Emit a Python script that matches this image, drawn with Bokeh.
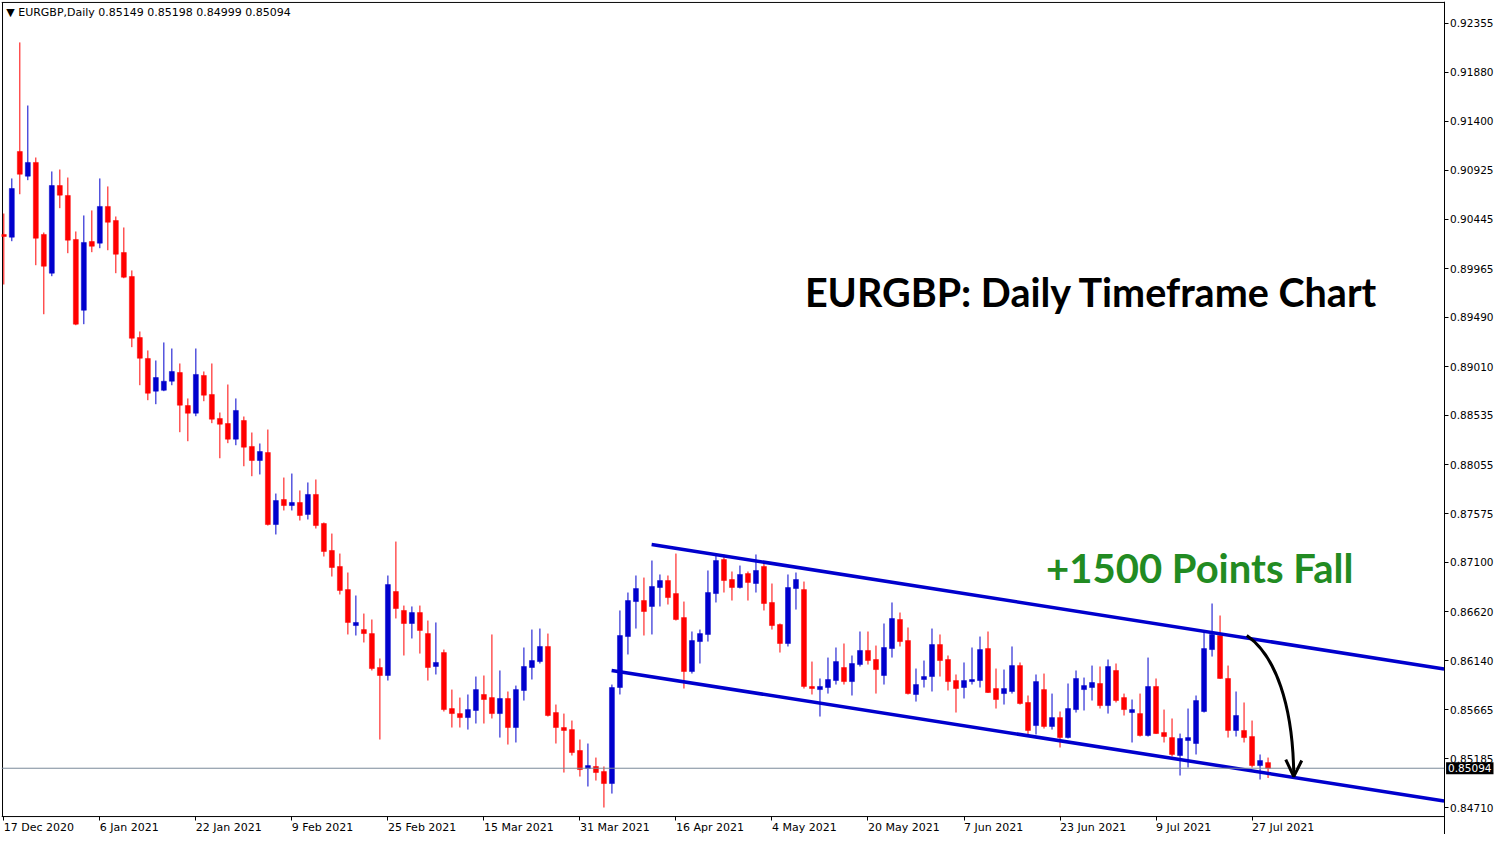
from bokeh.plotting import figure
from bokeh.models import ColumnDataSource, FixedTicker, PrintfTickFormatter, Label, Range1d
from bokeh.embed import file_html
from bokeh.resources import INLINE

symbol = "EURGBP"
timeframe = "Daily"

opens = [0.90298, 0.90271, 0.91107, 0.90866, 0.91000, 0.90298, 0.89920, 0.90775, 0.90678, 0.90249,
         0.89559, 0.90229, 0.90213, 0.90571, 0.90434, 0.90122, 0.89888, 0.89293, 0.89089, 0.88770,
         0.88779, 0.88867, 0.88952, 0.88630, 0.88555, 0.88923, 0.88738, 0.88504, 0.88455, 0.88302,
         0.88484, 0.88231, 0.88094, 0.88172, 0.87470, 0.87714, 0.87655, 0.87685, 0.87568, 0.87763,
         0.87480, 0.87217, 0.87061, 0.86836, 0.86485, 0.86446, 0.86407, 0.86076, 0.85998, 0.86817,
         0.86632, 0.86505, 0.86612, 0.86407, 0.86086, 0.86222, 0.85676, 0.85627, 0.85588, 0.85657,
         0.85813, 0.85783, 0.85627, 0.85774, 0.85491, 0.85852, 0.86076, 0.86134, 0.86281, 0.85637,
         0.85491, 0.85471, 0.85267, 0.85091, 0.85111, 0.85062, 0.84945, 0.85881, 0.86378, 0.86719,
         0.86729, 0.86671, 0.86856, 0.86924, 0.86797, 0.86563, 0.86037, 0.86329, 0.86398, 0.86797,
         0.87129, 0.86934, 0.86856, 0.86992, 0.86895, 0.87061, 0.86710, 0.86495, 0.86310, 0.86846,
         0.86836, 0.85891, 0.85861, 0.85881, 0.85949, 0.86076, 0.85939, 0.86105, 0.86242, 0.86154,
         0.85998, 0.86261, 0.86544, 0.86339, 0.85813, 0.85959, 0.85988, 0.86300, 0.86154, 0.85949,
         0.85881, 0.85939, 0.85949, 0.86261, 0.85871, 0.85822, 0.85842, 0.86095, 0.85735, 0.85510,
         0.85861, 0.85501, 0.85588, 0.85393, 0.85666, 0.85861, 0.85881, 0.85920, 0.85705, 0.86047,
         0.85783, 0.85637, 0.85627, 0.85413, 0.85891, 0.85442, 0.85393, 0.85218, 0.85364, 0.85335,
         0.85647, 0.86251, 0.86388, 0.85969, 0.85462, 0.85462, 0.85403, 0.85120, 0.85149]

highs = [0.90502, 0.90844, 0.92170, 0.91555, 0.91048, 0.90317, 0.90912, 0.90931, 0.90853, 0.90327,
         0.90483, 0.90532, 0.90844, 0.90766, 0.90473, 0.90366, 0.89947, 0.89352, 0.89167, 0.89069,
         0.89245, 0.89186, 0.89040, 0.88699, 0.89186, 0.88962, 0.89040, 0.88562, 0.88835, 0.88699,
         0.88523, 0.88367, 0.88260, 0.88396, 0.87772, 0.87928, 0.87967, 0.87802, 0.87880, 0.87909,
         0.87490, 0.87382, 0.87187, 0.87002, 0.86778, 0.86602, 0.86544, 0.86164, 0.86973, 0.87304,
         0.86680, 0.86671, 0.86680, 0.86534, 0.86515, 0.86251, 0.85861, 0.85783, 0.85813, 0.85988,
         0.85998, 0.86398, 0.86047, 0.85842, 0.85900, 0.86271, 0.86446, 0.86456, 0.86407, 0.85715,
         0.85627, 0.85559, 0.85374, 0.85335, 0.85198, 0.85111, 0.85910, 0.86632, 0.86807, 0.86973,
         0.86953, 0.87119, 0.86983, 0.86973, 0.87187, 0.86719, 0.86427, 0.86446, 0.87022, 0.87168,
         0.87178, 0.87012, 0.87070, 0.87012, 0.87178, 0.87100, 0.86895, 0.86505, 0.86983, 0.87002,
         0.86914, 0.86134, 0.85969, 0.86173, 0.86271, 0.86310, 0.86193, 0.86427, 0.86427, 0.86290,
         0.86505, 0.86710, 0.86612, 0.86466, 0.86066, 0.86144, 0.86456, 0.86398, 0.86193, 0.86008,
         0.86125, 0.86271, 0.86378, 0.86427, 0.86066, 0.86056, 0.86281, 0.86125, 0.85803, 0.86008,
         0.86017, 0.85822, 0.85647, 0.85920, 0.86047, 0.85978, 0.86095, 0.86086, 0.86154, 0.86115,
         0.85822, 0.85764, 0.85822, 0.86173, 0.85969, 0.85666, 0.85579, 0.85432, 0.85676, 0.85803,
         0.86417, 0.86700, 0.86583, 0.86095, 0.85842, 0.85735, 0.85559, 0.85228, 0.85198]

lows = [0.89810, 0.90232, 0.90690, 0.90827, 0.89998, 0.89520, 0.89891, 0.90554, 0.90115, 0.89413,
        0.89423, 0.90125, 0.90164, 0.90144, 0.89920, 0.89871, 0.89199, 0.88828, 0.88682, 0.88643,
        0.88770, 0.88828, 0.88370, 0.88282, 0.88526, 0.88672, 0.88458, 0.88116, 0.88263, 0.88243,
        0.88038, 0.87941, 0.87958, 0.87460, 0.87373, 0.87607, 0.87607, 0.87509, 0.87519, 0.87431,
        0.87158, 0.86963, 0.86788, 0.86398, 0.86388, 0.86320, 0.86047, 0.85374, 0.85949, 0.86554,
        0.86193, 0.86359, 0.86212, 0.85949, 0.86008, 0.85647, 0.85491, 0.85491, 0.85471, 0.85530,
        0.85530, 0.85579, 0.85393, 0.85325, 0.85345, 0.85754, 0.85959, 0.86115, 0.85598, 0.85335,
        0.85052, 0.85218, 0.85013, 0.84916, 0.84974, 0.84711, 0.84847, 0.85813, 0.86203, 0.86456,
        0.86388, 0.86398, 0.86671, 0.86690, 0.86534, 0.85871, 0.86017, 0.86115, 0.86329, 0.86710,
        0.86807, 0.86729, 0.86846, 0.86729, 0.86807, 0.86632, 0.86446, 0.86222, 0.86281, 0.86641,
        0.85871, 0.85813, 0.85598, 0.85822, 0.85910, 0.85910, 0.85803, 0.86086, 0.86105, 0.85822,
        0.85910, 0.86173, 0.86281, 0.85813, 0.85744, 0.85881, 0.85842, 0.85988, 0.85852, 0.85637,
        0.85774, 0.85910, 0.85881, 0.85828, 0.85676, 0.85715, 0.85822, 0.85715, 0.85423, 0.85423,
        0.85481, 0.85471, 0.85296, 0.85384, 0.85637, 0.85657, 0.85754, 0.85676, 0.85627, 0.85735,
        0.85608, 0.85345, 0.85403, 0.85403, 0.85428, 0.85345, 0.85208, 0.85023, 0.85101, 0.85228,
        0.85637, 0.86183, 0.85965, 0.85393, 0.85403, 0.85345, 0.85101, 0.84984, 0.84999]

closes = [0.90278, 0.90746, 0.90885, 0.91000, 0.90261, 0.89988, 0.90775, 0.90681, 0.90242, 0.89423,
          0.90220, 0.90183, 0.90571, 0.90417, 0.90105, 0.89881, 0.89286, 0.89091, 0.88750, 0.88903,
          0.88867, 0.88962, 0.88633, 0.88555, 0.88933, 0.88731, 0.88497, 0.88448, 0.88302, 0.88582,
          0.88224, 0.88094, 0.88182, 0.87470, 0.87704, 0.87655, 0.87685, 0.87558, 0.87763, 0.87460,
          0.87207, 0.87051, 0.86827, 0.86515, 0.86515, 0.86407, 0.86066, 0.85998, 0.86885, 0.86651,
          0.86505, 0.86612, 0.86437, 0.86076, 0.86125, 0.85666, 0.85627, 0.85588, 0.85666, 0.85861,
          0.85764, 0.85627, 0.85774, 0.85491, 0.85861, 0.86086, 0.86144, 0.86281, 0.85608, 0.85491,
          0.85462, 0.85247, 0.85081, 0.85120, 0.85052, 0.84945, 0.85881, 0.86388, 0.86729, 0.86846,
          0.86622, 0.86866, 0.86924, 0.86758, 0.86544, 0.86037, 0.86339, 0.86407, 0.86807, 0.87119,
          0.86924, 0.86856, 0.86983, 0.86905, 0.87022, 0.86700, 0.86485, 0.86310, 0.86856, 0.86934,
          0.85891, 0.85871, 0.85891, 0.85959, 0.86134, 0.85939, 0.86115, 0.86242, 0.86144, 0.86056,
          0.86271, 0.86554, 0.86329, 0.85822, 0.85910, 0.85988, 0.86300, 0.86144, 0.85939, 0.85871,
          0.85949, 0.85959, 0.86251, 0.85832, 0.85764, 0.85871, 0.86095, 0.85725, 0.85462, 0.85939,
          0.85501, 0.85588, 0.85393, 0.85676, 0.85969, 0.85900, 0.85930, 0.85705, 0.86086, 0.85754,
          0.85666, 0.85666, 0.85413, 0.85891, 0.85432, 0.85403, 0.85228, 0.85384, 0.85393, 0.85754,
          0.86261, 0.86398, 0.85969, 0.85462, 0.85608, 0.85393, 0.85120, 0.85169, 0.85094]

date_ticks = [0, 12, 24, 36, 48, 60, 72, 84, 96, 108, 120, 132, 144, 156]
date_labels = ["17 Dec 2020", "6 Jan 2021", "22 Jan 2021", "9 Feb 2021", "25 Feb 2021",
               "15 Mar 2021", "31 Mar 2021", "16 Apr 2021", "4 May 2021", "20 May 2021",
               "7 Jun 2021", "23 Jun 2021", "9 Jul 2021", "27 Jul 2021"]
price_ticks = [0.92355, 0.91880, 0.91400, 0.90925, 0.90445, 0.89965, 0.89490, 0.89010, 0.88535,
               0.88055, 0.87575, 0.87100, 0.86620, 0.86140, 0.85665, 0.85185, 0.84710]

# chart window: bar-index / price extents, where the price scale and the time scale sit
X_START, X_END = -0.29, 186.3
Y_BOTTOM, Y_TOP = 0.84448, 0.92569
AXIS_X = 180.0
BORDER_LEFT, BORDER_TOP, BORDER_BOTTOM = -0.1625, 0.92560, 0.84623

# channel trend lines: (bar index, price) end points
upper_channel_x = [80.96, 180.0]
upper_channel_y = [0.87275, 0.86062]
lower_channel_x = [75.96, 180.0]
lower_channel_y = [0.86047, 0.84775]

# curved arrow (bar index, price)
arrow_start = (155.34, 0.86388)
arrow_ctrl1 = (158.96, 0.86193)
arrow_ctrl2 = (161.09, 0.85705)
arrow_end = (161.21, 0.85042)
arrow_head_x = [160.21, 161.21, 162.21]
arrow_head_y = [0.85179, 0.85013, 0.85169]

title_text = "EURGBP: Daily Timeframe Chart"
note_text = "+1500 Points Fall"

UP = "#0000CD"
DOWN = "#FF0000"

n = len(opens)
xs = list(range(n))
colors = [UP if c >= o else DOWN for o, c in zip(opens, closes)]
src = ColumnDataSource(dict(
    x=xs, high=highs, low=lows,
    top=[max(o, c) for o, c in zip(opens, closes)],
    bottom=[min(o, c) for o, c in zip(opens, closes)],
    color=colors,
))

p = figure(width=1494, height=834, x_range=Range1d(X_START, X_END), y_range=Range1d(Y_BOTTOM, Y_TOP),
           y_axis_location="right", toolbar_location=None, output_backend="svg",
           min_border_left=1, min_border_top=1, min_border_right=0, min_border_bottom=0,
           background_fill_color="white", border_fill_color="white")
p.grid.grid_line_color = None
p.outline_line_color = None

# chart border (left, top, bottom); the price scale line forms the right side
p.line([BORDER_LEFT, BORDER_LEFT], [BORDER_BOTTOM, BORDER_TOP], line_color="black", line_width=1)
p.line([X_START, AXIS_X], [BORDER_TOP, BORDER_TOP], line_color="black", line_width=1)
p.line([X_START, AXIS_X], [BORDER_BOTTOM, BORDER_BOTTOM], line_color="black", line_width=1)

p.segment(x0="x", y0="low", x1="x", y1="high", color="color", line_width=1, source=src)
p.vbar(x="x", width=0.62, top="top", bottom="bottom", fill_color="color", line_color="color",
       line_width=0.5, source=src)

p.line(upper_channel_x, upper_channel_y, line_color=UP, line_width=3.5)
p.line(lower_channel_x, lower_channel_y, line_color=UP, line_width=3.5)

p.line([X_START, AXIS_X], [closes[-1], closes[-1]], line_color="#7a8a9a", line_width=1)

p.bezier(x0=[arrow_start[0]], y0=[arrow_start[1]], x1=[arrow_end[0]], y1=[arrow_end[1]],
         cx0=[arrow_ctrl1[0]], cy0=[arrow_ctrl1[1]], cx1=[arrow_ctrl2[0]], cy1=[arrow_ctrl2[1]],
         line_color="black", line_width=3)
p.line(arrow_head_x, arrow_head_y, line_color="black", line_width=3)

# axes
xa = p.xaxis[0]
xa.fixed_location = BORDER_BOTTOM
xa.ticker = FixedTicker(ticks=date_ticks)
xa.major_label_overrides = {t: l for t, l in zip(date_ticks, date_labels)}
xa.major_label_orientation = -0.0001
xa.major_label_standoff = 7
xa.axis_line_color = None
xa.major_label_text_font_size = "11px"

ya = p.yaxis[0]
ya.fixed_location = AXIS_X
ya.ticker = FixedTicker(ticks=price_ticks)
ya.formatter = PrintfTickFormatter(format="%.5f")
ya.major_label_standoff = 2
ya.axis_line_color = "black"
ya.major_label_text_font_size = "10.5px"
for ax in (xa, ya):
    ax.major_tick_in = 0
    ax.major_tick_out = 4
    ax.minor_tick_in = 0
    ax.minor_tick_out = 0
    ax.major_tick_line_color = "black"
    ax.major_label_text_font = "DejaVu Sans"
    ax.major_label_text_color = "black"

# header
header = f"\u25bc {symbol},{timeframe}  {opens[-1]:.5f} {highs[-1]:.5f} {lows[-1]:.5f} {closes[-1]:.5f}"
p.add_layout(Label(x=0.3, y=0.92462, text=header, text_font="DejaVu Sans", text_font_size="11px",
                   text_color="black", text_baseline="middle", text_align="left"))

# last price box on the price scale
p.add_layout(Label(x=AXIS_X, y=closes[-1], x_offset=2, text=f"{closes[-1]:.5f}", text_font="DejaVu Sans",
                   text_font_size="10.5px", text_color="white", text_baseline="middle", text_align="left",
                   background_fill_color="black", border_line_color=None, padding=2, level="overlay"))

p.add_layout(Label(x=135.96, y=0.89742, text=title_text, text_font="Lato", text_font_style="bold",
                   text_font_size="39.5px", text_color="black", text_align="center", text_baseline="middle"))
p.add_layout(Label(x=149.46, y=0.87051, text=note_text, text_font="Lato", text_font_style="bold",
                   text_font_size="40px", text_color="#228B22", text_align="center", text_baseline="middle"))

open("out.html", "w").write(file_html(p, INLINE))
